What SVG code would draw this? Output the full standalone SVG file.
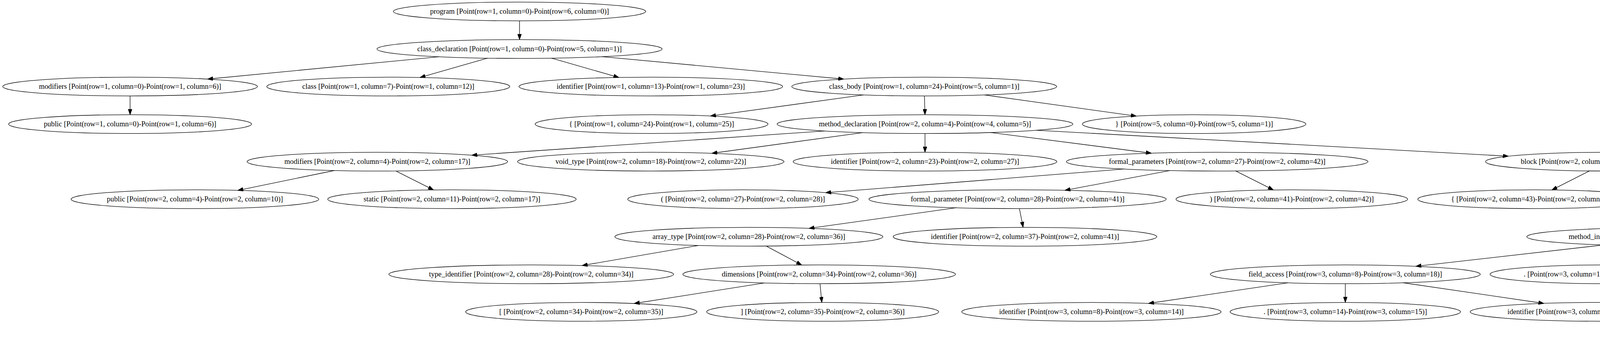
<svg xmlns="http://www.w3.org/2000/svg" width="6486" height="923" viewBox="0 0 6486 923">
<style>
.node ellipse{fill:none;stroke:#000;stroke-width:1.33}
.node text{font-family:"Liberation Serif","Times New Roman",serif;font-size:18.67px;text-anchor:middle;fill:#000}
.edges path{fill:none;stroke:#000;stroke-width:1.33;marker-end:url(#ah)}
</style>
<defs>
<marker id="ah" markerUnits="userSpaceOnUse" markerWidth="14" markerHeight="10" viewBox="0 0 13.33 9.33" refX="13.33" refY="4.67" orient="auto">
<path d="M0,0 L13.33,4.67 L0,9.33 z" fill="#000" stroke="#000" stroke-width="1"/>
</marker>
</defs>
<rect x="0" y="0" width="6486" height="923" fill="#fff"/>
<g id="connectors" class="edges">
<path d="M1330,53.33 L1330,101.33"/>
<path d="M1124.2,145.15 L531.0,202.27"/>
<path d="M1248.1,148.72 L1075.1,198.16"/>
<path d="M1411.9,148.72 L1584.5,198.04"/>
<path d="M1541.2,144.9 L2160.2,202.26"/>
<path d="M333,245.33 L333,293.33"/>
<path d="M2210.9,242.67 L1818.6,296.62"/>
<path d="M2366.5,245.33 L2368,293.33"/>
<path d="M2519.9,242.71 L2909.1,296.79"/>
<path d="M2110.8,334.94 L1207.6,396.79"/>
<path d="M2208.8,339.1 L1822.0,391.99"/>
<path d="M2368,341.33 L2368,389.33"/>
<path d="M2535.7,338.85 L2947.7,391.73"/>
<path d="M2654.1,333.04 L3861.5,399.36"/>
<path d="M855.8,435.98 L608.6,486.81"/>
<path d="M1013.3,437.09 L1109.8,485.6"/>
<path d="M2877.4,432.2 L2113.5,492.6"/>
<path d="M2994.7,436.11 L2726.1,486.58"/>
<path d="M3163.4,437.15 L3259.9,485.64"/>
<path d="M4069.0,437.06 L3972.9,485.63"/>
<path d="M4237.0,435.46 L4516.6,486.57"/>
<path d="M4335.3,430.46 L5135.8,492.99"/>
<path d="M2448.3,531.2 L2070.8,583.88"/>
<path d="M2609.7,533.33 L2619.2,581.33"/>
<path d="M4555.4,532.75 L4375.5,581.94"/>
<path d="M4726.4,532.75 L4907.1,582.33"/>
<path d="M1788.0,627.57 L1490.1,678.91"/>
<path d="M1961.6,629.13 L2052.4,677.53"/>
<path d="M4105.0,626.32 L3624.4,680.86"/>
<path d="M4245.3,629.16 L4154.5,677.6"/>
<path d="M4403.8,628.24 L4654.6,678.72"/>
<path d="M4525.6,624.21 L5257.8,682.88"/>
<path d="M1957.5,723.33 L1623.4,775.99"/>
<path d="M2099.2,725.33 L2103.8,773.33"/>
<path d="M3297.0,723.05 L2940.0,775.77"/>
<path d="M3444,725.33 L3444,773.33"/>
<path d="M3592.2,723.01 L3952.6,775.76"/>
<path d="M5335.0,723.05 L4958.5,776.52"/>
<path d="M5488,725.33 L5489,773.33"/>
<path d="M5641.2,723.05 L6018.2,776.51"/>
<path d="M5333.1,818.89 L4944.9,872.6"/>
<path d="M5488,821.33 L5487,869.33"/>
<path d="M5644.3,818.91 L6030.8,872.6"/>
</g>
<g id="n0" class="node"><ellipse cx="1330" cy="29.33" rx="323" ry="24"/><text x="1330" y="35.33">program [Point(row=1, column=0)-Point(row=6, column=0)]</text></g>
<g id="n1" class="node"><ellipse cx="1330" cy="125.33" rx="365" ry="24"/><text x="1330" y="131.33">class_declaration [Point(row=1, column=0)-Point(row=5, column=1)]</text></g>
<g id="n2" class="node"><ellipse cx="333" cy="221.33" rx="326" ry="24"/><text x="333" y="227.33">modifiers [Point(row=1, column=0)-Point(row=1, column=6)]</text></g>
<g id="n3" class="node"><ellipse cx="994" cy="221.33" rx="311" ry="24"/><text x="994" y="227.33">class [Point(row=1, column=7)-Point(row=1, column=12)]</text></g>
<g id="n4" class="node"><ellipse cx="1666" cy="221.33" rx="337.5" ry="24"/><text x="1666" y="227.33">identifier [Point(row=1, column=13)-Point(row=1, column=23)]</text></g>
<g id="n5" class="node"><ellipse cx="2366" cy="221.33" rx="339" ry="24"/><text x="2366" y="227.33">class_body [Point(row=1, column=24)-Point(row=5, column=1)]</text></g>
<g id="n6" class="node"><ellipse cx="333" cy="317.33" rx="311" ry="24"/><text x="333" y="323.33">public [Point(row=1, column=0)-Point(row=1, column=6)]</text></g>
<g id="n7" class="node"><ellipse cx="1668" cy="317.33" rx="298" ry="24"/><text x="1668" y="323.33">{ [Point(row=1, column=24)-Point(row=1, column=25)]</text></g>
<g id="n8" class="node"><ellipse cx="2368" cy="317.33" rx="378.5" ry="24"/><text x="2368" y="323.33">method_declaration [Point(row=2, column=4)-Point(row=4, column=5)]</text></g>
<g id="n9" class="node"><ellipse cx="3057" cy="317.33" rx="286" ry="24"/><text x="3057" y="323.33">} [Point(row=5, column=0)-Point(row=5, column=1)]</text></g>
<g id="n10" class="node"><ellipse cx="966" cy="413.33" rx="333.5" ry="24"/><text x="966" y="419.33">modifiers [Point(row=2, column=4)-Point(row=2, column=17)]</text></g>
<g id="n11" class="node"><ellipse cx="1666" cy="413.33" rx="341" ry="24"/><text x="1666" y="419.33">void_type [Point(row=2, column=18)-Point(row=2, column=22)]</text></g>
<g id="n12" class="node"><ellipse cx="2368" cy="413.33" rx="337.5" ry="24"/><text x="2368" y="419.33">identifier [Point(row=2, column=23)-Point(row=2, column=27)]</text></g>
<g id="n13" class="node"><ellipse cx="3116" cy="413.33" rx="386" ry="24"/><text x="3116" y="419.33">formal_parameters [Point(row=2, column=27)-Point(row=2, column=42)]</text></g>
<g id="n14" class="node"><ellipse cx="4116" cy="413.33" rx="313" ry="24"/><text x="4116" y="419.33">block [Point(row=2, column=43)-Point(row=4, column=5)]</text></g>
<g id="n15" class="node"><ellipse cx="499" cy="509.33" rx="317" ry="24"/><text x="499" y="515.33">public [Point(row=2, column=4)-Point(row=2, column=10)]</text></g>
<g id="n16" class="node"><ellipse cx="1157" cy="509.33" rx="318" ry="24"/><text x="1157" y="515.33">static [Point(row=2, column=11)-Point(row=2, column=17)]</text></g>
<g id="n17" class="node"><ellipse cx="1902" cy="509.33" rx="295" ry="24"/><text x="1902" y="515.33">( [Point(row=2, column=27)-Point(row=2, column=28)]</text></g>
<g id="n18" class="node"><ellipse cx="2605" cy="509.33" rx="380.5" ry="24"/><text x="2605" y="515.33">formal_parameter [Point(row=2, column=28)-Point(row=2, column=41)]</text></g>
<g id="n19" class="node"><ellipse cx="3307" cy="509.33" rx="296.5" ry="24"/><text x="3307" y="515.33">) [Point(row=2, column=41)-Point(row=2, column=42)]</text></g>
<g id="n20" class="node"><ellipse cx="3926" cy="509.33" rx="296.5" ry="24"/><text x="3926" y="515.33">{ [Point(row=2, column=43)-Point(row=2, column=44)]</text></g>
<g id="n21" class="node"><ellipse cx="4641" cy="509.33" rx="391.5" ry="24"/><text x="4641" y="515.33">expression_statement [Point(row=3, column=8)-Point(row=3, column=44)]</text></g>
<g id="n22" class="node"><ellipse cx="5345" cy="509.33" rx="285.5" ry="24"/><text x="5345" y="515.33">} [Point(row=4, column=4)-Point(row=4, column=5)]</text></g>
<g id="n23" class="node"><ellipse cx="1917" cy="605.33" rx="343" ry="24"/><text x="1917" y="611.33">array_type [Point(row=2, column=28)-Point(row=2, column=36)]</text></g>
<g id="n24" class="node"><ellipse cx="2624" cy="605.33" rx="337.5" ry="24"/><text x="2624" y="611.33">identifier [Point(row=2, column=37)-Point(row=2, column=41)]</text></g>
<g id="n25" class="node"><ellipse cx="4290" cy="605.33" rx="381.5" ry="24"/><text x="4290" y="611.33">method_invocation [Point(row=3, column=8)-Point(row=3, column=43)]</text></g>
<g id="n26" class="node"><ellipse cx="4991" cy="605.33" rx="294" ry="24"/><text x="4991" y="611.33">; [Point(row=3, column=43)-Point(row=3, column=44)]</text></g>
<g id="n27" class="node"><ellipse cx="1360" cy="701.33" rx="364.5" ry="24"/><text x="1360" y="707.33">type_identifier [Point(row=2, column=28)-Point(row=2, column=34)]</text></g>
<g id="n28" class="node"><ellipse cx="2097" cy="701.33" rx="349" ry="24"/><text x="2097" y="707.33">dimensions [Point(row=2, column=34)-Point(row=2, column=36)]</text></g>
<g id="n29" class="node"><ellipse cx="3444" cy="701.33" rx="345.5" ry="24"/><text x="3444" y="707.33">field_access [Point(row=3, column=8)-Point(row=3, column=18)]</text></g>
<g id="n30" class="node"><ellipse cx="4110" cy="701.33" rx="295.5" ry="24"/><text x="4110" y="707.33">. [Point(row=3, column=18)-Point(row=3, column=19)]</text></g>
<g id="n31" class="node"><ellipse cx="4767" cy="701.33" rx="335.5" ry="24"/><text x="4767" y="707.33">identifier [Point(row=3, column=19)-Point(row=3, column=26)]</text></g>
<g id="n32" class="node"><ellipse cx="5488" cy="701.33" rx="360" ry="24"/><text x="5488" y="707.33">argument_list [Point(row=3, column=26)-Point(row=3, column=43)]</text></g>
<g id="n33" class="node"><ellipse cx="1488" cy="797.33" rx="296" ry="24"/><text x="1488" y="803.33">[ [Point(row=2, column=34)-Point(row=2, column=35)]</text></g>
<g id="n34" class="node"><ellipse cx="2106" cy="797.33" rx="297" ry="24"/><text x="2106" y="803.33">] [Point(row=2, column=35)-Point(row=2, column=36)]</text></g>
<g id="n35" class="node"><ellipse cx="2794" cy="797.33" rx="332" ry="24"/><text x="2794" y="803.33">identifier [Point(row=3, column=8)-Point(row=3, column=14)]</text></g>
<g id="n36" class="node"><ellipse cx="3444" cy="797.33" rx="295" ry="24"/><text x="3444" y="803.33">. [Point(row=3, column=14)-Point(row=3, column=15)]</text></g>
<g id="n37" class="node"><ellipse cx="4100" cy="797.33" rx="336.5" ry="24"/><text x="4100" y="803.33">identifier [Point(row=3, column=15)-Point(row=3, column=18)]</text></g>
<g id="n38" class="node"><ellipse cx="4812" cy="797.33" rx="294" ry="24"/><text x="4812" y="803.33">( [Point(row=3, column=26)-Point(row=3, column=27)]</text></g>
<g id="n39" class="node"><ellipse cx="5489" cy="797.33" rx="355" ry="24"/><text x="5489" y="803.33">string_literal [Point(row=3, column=27)-Point(row=3, column=42)]</text></g>
<g id="n40" class="node"><ellipse cx="6165" cy="797.33" rx="295" ry="24"/><text x="6165" y="803.33">) [Point(row=3, column=42)-Point(row=3, column=43)]</text></g>
<g id="n41" class="node"><ellipse cx="4795" cy="893.33" rx="297.5" ry="24"/><text x="4795" y="899.33">&quot; [Point(row=3, column=27)-Point(row=3, column=28)]</text></g>
<g id="n42" class="node"><ellipse cx="5487" cy="893.33" rx="371" ry="24"/><text x="5487" y="899.33">string_fragment [Point(row=3, column=28)-Point(row=3, column=41)]</text></g>
<g id="n43" class="node"><ellipse cx="6180" cy="893.33" rx="296" ry="24"/><text x="6180" y="899.33">&quot; [Point(row=3, column=41)-Point(row=3, column=42)]</text></g>
</svg>
